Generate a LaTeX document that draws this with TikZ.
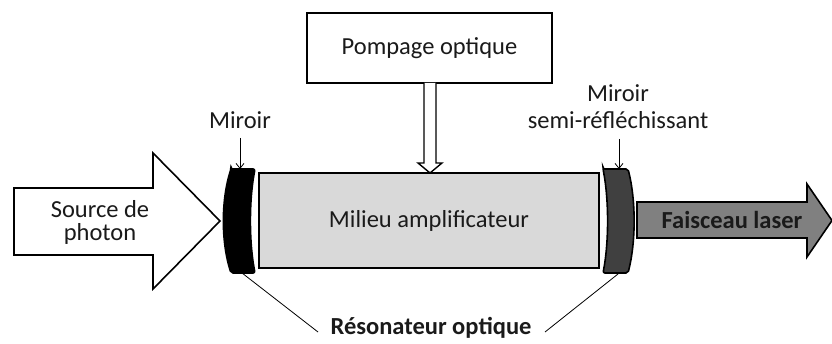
\documentclass[tikz,border=0pt]{standalone}
\usepackage{fontspec}
\setmainfont{Carlito}
\usetikzlibrary{arrows.meta}
\definecolor{medium}{HTML}{D9D9D9}
\definecolor{laser}{HTML}{808080}
\definecolor{semimir}{HTML}{404040}
\definecolor{txt}{HTML}{1A1A1A}
\tikzset{
  outline/.style={draw=black, line width=1.6pt, line join=miter},
  lbl/.style={font=\fontsize{24.5}{27}\selectfont, text=txt, inner sep=0pt, align=center},
  blbl/.style={lbl, font=\fontsize{24.5}{27}\selectfont\bfseries},
  pointer/.style={draw=black, line width=0.8pt, -{Straight Barb[length=5pt,width=8pt]}},
  thinline/.style={draw=black, line width=0.8pt}
}
\begin{document}
\begin{tikzpicture}[x=1pt,y=-1pt]
\useasboundingbox (0,0) rectangle (832,344);
% pump box
\node[outline, lbl, minimum width=245pt, minimum height=70pt, fill=white] (pump) at (429.5,48) {Pompage optique};
% gain medium
\node[outline, lbl, fill=medium, minimum width=340pt, minimum height=95pt] (med) at (429,220.5) {Milieu amplificateur};
% pump arrow
\draw[outline, fill=white, line width=1.4pt] (424,83) -- (424,163) -- (418,163) -- (430,173) -- (442,163) -- (436,163) -- (436,83);
% left mirror
\draw[outline, fill=black, rounded corners=2pt] (231,169) -- (255,169) .. controls (249,200) and (249,242) .. (255,273) -- (231,273) .. controls (221,242) and (221,200) .. (231,169) -- cycle;
\coordinate (lmtop) at (240,169);
\coordinate (lmbot) at (242,273);
% right mirror
\draw[outline, fill=semimir, rounded corners=2pt] (603,169) -- (628,169) .. controls (636,200) and (636,242) .. (628,273) -- (603,273) .. controls (609,242) and (609,200) .. (603,169) -- cycle;
\coordinate (rmtop) at (619,169);
\coordinate (rmbot) at (618,274);
% source arrow
\draw[outline, fill=white] (14,188) -- (153,188) -- (153,153) -- (220,221) -- (153,289) -- (153,255) -- (14,255) -- cycle;
\node[lbl, font=\fontsize{24.5}{23}\selectfont] (src) at (100,222) {Source de\\photon};
% laser arrow
\draw[outline, fill=laser] (637,202) -- (807,202) -- (807,184) -- (832,220.5) -- (807,257) -- (807,238) -- (637,238) -- cycle;
\node[blbl] (las) at (732,220) {Faisceau laser};
% labels
\node[lbl] (mir) at (240,120) {Miroir};
\node[lbl] (semi) at (618,107) {Miroir\\semi-réfléchissant};
\draw[pointer] (240,138) -- (lmtop);
\draw[pointer] (619,139) -- (rmtop);
\node[blbl] (res) at (431,328) {Résonateur optique};
\draw[thinline] (lmbot) -- (318,332);
\draw[thinline] (rmbot) -- (545,332);
\end{tikzpicture}
\end{document}
